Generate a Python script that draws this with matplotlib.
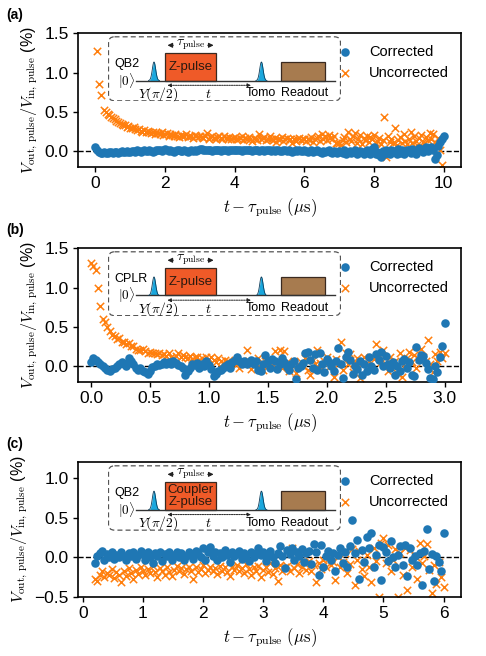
import numpy as np
import matplotlib
matplotlib.use("Agg")
import matplotlib.pyplot as plt
from matplotlib.patches import Rectangle, FancyBboxPatch

plt.rcParams['font.family'] = ['Liberation Sans', 'DejaVu Sans']
plt.rcParams['mathtext.fontset'] = 'cm'

nan = np.nan

# ---------------- data ----------------
t_a = np.round(np.arange(0, 201) * 0.05, 3)
corr_a = [
    0.05, 0.02, -0.01, -0.02, -0.02, -0.01, -0.02, -0.02, -0.01, -0.01, -0.02, -0.01, -0.01, -0.02, -0.01, 0.0, -0.01, -0.01, 0.0, -0.01,
    -0.01, 0.0, 0.0, -0.01, 0.01, 0.0, -0.01, 0.0, 0.01, 0.0, 0.0, 0.01, 0.0, -0.01, 0.0, 0.01, 0.02, 0.01, 0.0, 0.02,
    0.03, 0.02, 0.0, 0.01, 0.0, -0.01, 0.0, 0.01, 0.01, 0.0, 0.0, 0.01, 0.0, -0.01, 0.0, 0.01, 0.0, 0.01, 0.0, 0.02,
    0.03, 0.03, 0.02, 0.01, 0.01, 0.02, 0.01, 0.0, 0.01, 0.02, 0.01, 0.01, 0.0, 0.02, 0.02, 0.01, 0.0, 0.01, 0.02, 0.02,
    0.02, 0.01, 0.02, 0.01, 0.0, 0.01, 0.02, 0.02, 0.01, 0.01, 0.0, 0.01, 0.02, 0.01, 0.0, 0.02, 0.01, 0.0, 0.01, 0.02,
    0.01, 0.0, 0.01, 0.0, 0.01, 0.02, 0.0, 0.0, 0.01, 0.01, 0.0, 0.01, 0.0, -0.01, 0.0, 0.01, 0.0, 0.01, 0.0, 0.0,
    0.01, 0.0, -0.01, 0.0, 0.01, -0.01, 0.0, 0.01, 0.0, -0.01, -0.02, 0.0, -0.01, 0.0, 0.01, -0.01, -0.02, 0.0, -0.01, -0.02,
    0.0, -0.01, -0.02, 0.01, -0.03, -0.01, 0.0, -0.02, -0.01, 0.01, -0.03, -0.02, 0.0, -0.01, -0.04, -0.01, 0.02, -0.02, -0.03, 0.03,
    0.05, -0.04, -0.01, -0.05, -0.07, 0.0, -0.03, 0.01, -0.02, -0.04, 0.02, -0.01, 0.0, -0.03, 0.03, -0.02, 0.01, -0.04, 0.0, 0.02,
    0.01, -0.02, 0.03, 0.0, -0.03, 0.02, 0.04, 0.01, -0.01, 0.03, 0.05, 0.0, 0.04, 0.06, 0.02, -0.1, -0.05, 0.07, 0.12, 0.16, 0.2,
]
unc_a = [
    nan, 1.27, 0.86, 0.71, nan, 0.53, 0.50, 0.48, 0.46, 0.44, 0.42, 0.41, 0.39, 0.37, 0.36, 0.35, 0.33, 0.34, 0.31, 0.32,
    0.30, 0.29, 0.31, 0.28, 0.27, 0.28, 0.26, 0.25, 0.27, 0.24, 0.26, 0.25, 0.23, 0.24, 0.22, 0.25, 0.23, 0.22, 0.24, 0.21,
    0.22, 0.23, 0.20, 0.22, 0.21, 0.19, 0.22, 0.20, 0.18, 0.21, 0.20, 0.19, 0.22, 0.18, 0.20, 0.19, 0.17, 0.21, 0.19, 0.18,
    0.20, 0.18, 0.17, 0.19, 0.23, 0.16, 0.18, 0.19, 0.17, 0.16, 0.18, 0.20, 0.17, 0.15, 0.19, 0.17, 0.16, 0.18, 0.15, 0.17,
    0.18, 0.16, 0.15, 0.17, 0.20, 0.14, 0.17, 0.16, 0.18, 0.15, 0.13, 0.17, 0.16, 0.14, 0.22, 0.15, 0.17, 0.18, 0.14, 0.16,
    0.19, 0.15, 0.14, 0.17, 0.12, 0.16, 0.15, 0.18, 0.13, 0.16, 0.17, 0.14, 0.15, 0.10, 0.16, 0.13, 0.15, 0.17, 0.14, 0.16,
    0.15, 0.13, 0.16, 0.14, 0.18, 0.12, 0.15, 0.17, 0.20, 0.13, 0.22, 0.16, 0.19, 0.14, 0.21, 0.17, 0.15, 0.20, 0.10, 0.11,
    0.10, 0.08, 0.14, 0.18, 0.12, 0.25, 0.16, 0.13, 0.19, 0.23, 0.11, 0.15, 0.21, 0.09, 0.17, 0.14, 0.20, 0.12, 0.18, 0.16,
    0.21, 0.10, 0.13, 0.17, 0.09, 0.14, 0.43, -0.07, 0.19, 0.12, 0.16, 0.11, 0.29, 0.08, 0.14, 0.18, 0.10, 0.22, 0.13, 0.09,
    0.15, 0.24, 0.11, 0.19, 0.13, 0.08, 0.17, 0.21, 0.12, 0.10, 0.18, 0.14, 0.23, 0.16, 0.22, 0.12, 0.07, 0.17, 0.01, -0.17, nan,
]

t_b = np.round(np.arange(0, 151) * 0.02, 3)
corr_b = [
    0.05, 0.10, 0.08, 0.05, 0.02, 0.0, -0.02, -0.05, -0.07, -0.04, -0.02, 0.0, 0.03, 0.05, 0.02, 0.0, 0.10, 0.06, 0.03, -0.02,
    -0.05, -0.03, -0.06, -0.08, -0.10, -0.06, -0.01, 0.0, 0.02, 0.01, 0.03, 0.05, 0.02, 0.05, 0.03, 0.06, 0.04, 0.01, 0.0, -0.03,
    -0.12, -0.06, -0.02, 0.02, 0.01, 0.04, -0.02, 0.03, 0.0, 0.06, 0.01, -0.04, -0.13, -0.10, -0.07, -0.05, -0.02, 0.0, 0.02, -0.03,
    0.05, 0.08, 0.11, 0.06, 0.03, 0.06, 0.02, 0.05, 0.08, 0.03, 0.06, -0.05, -0.07, 0.03, 0.14, 0.06, -0.02, 0.09, 0.07, -0.04,
    0.03, 0.10, 0.05, -0.01, -0.05, 0.02, 0.06, -0.17, -0.02, 0.0, 0.04, 0.17, 0.18, 0.08, -0.02, 0.15, -0.05, 0.17, 0.02, -0.08,
    0.09, 0.05, 0.0, -0.06, 0.07, 0.23, 0.02, -0.15, 0.12, 0.18, 0.08, -0.10, 0.0, -0.04, 0.07, -0.12, 0.02, -0.06, 0.12, 0.0,
    -0.05, 0.15, 0.08, 0.18, 0.0, 0.13, 0.03, -0.03, 0.05, -0.12, 0.0, -0.06, 0.06, 0.09, -0.03, 0.05, -0.11, -0.13, 0.24, 0.08,
    0.14, 0.13, 0.04, -0.04, -0.15, -0.16, 0.0, -0.08, 0.11, 0.26, 0.55,
]
unc_b = [
    1.31, 1.28, 1.22, 0.99, 0.77, 0.60, 0.56, 0.50, 0.45, 0.40,
    0.38, 0.35, 0.36, 0.31, 0.30, 0.28, 0.29, 0.25, 0.26, 0.22,
    0.21, 0.20, 0.22, 0.19, 0.17, 0.18, 0.16, 0.17, 0.15, 0.16,
    0.14, 0.15, 0.13, 0.16, 0.12, 0.10, 0.13, 0.17, 0.11, 0.14,
    0.12, 0.10, 0.13, 0.09, 0.11, 0.12, 0.08, 0.10, 0.07, 0.11,
    0.09, 0.12, 0.08, 0.05, 0.10, 0.07, 0.04, 0.08, 0.06, 0.03,
    0.05, 0.08, 0.02, -0.03, 0.06, 0.03, 0.20, 0.07, -0.04, 0.05,
    0.04, 0.10, 0.02, -0.05, 0.06, 0.00, 0.08, 0.03, 0.19, 0.05,
    0.20, -0.02, 0.19, 0.05, -0.06, 0.02, 0.07, -0.09, 0.03, 0.05,
    0.00, 0.10, -0.05, -0.12, 0.08, 0.02, 0.20, 0.04, -0.03, 0.07,
    0.12, -0.01, 0.05, -0.14, 0.09, 0.02, 0.30, -0.05, 0.17, 0.03,
    0.15, -0.08, 0.05, 0.10, -0.15, 0.03, 0.11, -0.04, 0.06, -0.02,
    0.09, 0.28, 0.14, 0.05, 0.21, 0.02, -0.07, 0.12, 0.04, 0.07,
    -0.09, 0.16, -0.14, 0.00, 0.10, 0.18, 0.05, 0.14, -0.02, 0.09,
    0.22, 0.12, 0.07, 0.33, 0.02, -0.08, 0.15, 0.06, 0.18, 0.10, 0.17,
]

t_c = np.round(0.2 + np.arange(0, 146) * 0.04, 3)
corr_c = [
    -0.08, 0.02, 0.05, 0.08, -0.03, 0.04, 0.0, 0.07, -0.02, 0.03,
    0.0, 0.06, 0.02, -0.04, 0.05, 0.01, 0.07, -0.02, 0.03, 0.08,
    0.04, -0.03, 0.06, 0.0, -0.08, 0.05, 0.02, 0.07, -0.05, 0.04,
    0.01, 0.06, -0.03, 0.03, 0.07, 0.0, 0.05, -0.04, 0.02, 0.06,
    0.03, -0.02, 0.08, 0.04, 0.0, 0.11, -0.04, 0.06, 0.13, 0.02,
    0.07, -0.03, 0.05, 0.0, 0.09, 0.03, -0.06, 0.06, 0.01, 0.04,
    0.08, -0.02, 0.05, 0.02, -0.05, 0.07, 0.0, 0.04, 0.11, 0.03,
    0.06, -0.05, 0.02, 0.08, 0.0, -0.08, 0.05, 0.14, 0.02, -0.14,
    0.09, 0.04, 0.12, -0.03, 0.07, 0.01, 0.10, -0.06, 0.05, 0.08,
    -0.09, 0.17, 0.06, -0.23, 0.16, -0.12, 0.02, 0.08, -0.04, 0.05,
    -0.17, 0.03, 0.11, -0.08, 0.06, -0.12, 0.14, 0.47, 0.05, 0.22,
    -0.28, 0.09, -0.06, 0.26, 0.12, 0.30, -0.12, 0.03, 0.16, -0.29,
    0.13, 0.07, -0.05, 0.21, 0.0, -0.13, 0.03, 0.14, -0.10, 0.16,
    -0.24, 0.12, -0.04, 0.02, -0.10, 0.05, -0.35, 0.08, 0.36, -0.15,
    0.04, -0.30, 0.02, -0.06, -0.18, 0.30,
]
unc_c = [
    -0.28, -0.30, -0.22, -0.18, -0.25, -0.20, -0.23, -0.15, -0.26, -0.19,
    -0.22, -0.31, -0.17, -0.24, -0.14, -0.20, -0.27, -0.16, -0.21, -0.12,
    -0.18, -0.23, -0.15, -0.20, -0.11, -0.19, -0.25, -0.14, -0.17, -0.22,
    -0.13, -0.19, -0.24, -0.16, -0.11, -0.18, -0.14, -0.21, -0.15, -0.12,
    -0.17, -0.28, -0.13, -0.19, -0.15, -0.10, -0.20, -0.16, -0.12, -0.18,
    -0.14, -0.21, -0.11, -0.17, -0.13, -0.19, -0.24, -0.12, -0.16, -0.10,
    -0.18, -0.14, -0.20, -0.09, -0.15, -0.22, -0.13, -0.17, -0.11, -0.25,
    -0.16, -0.12, -0.19, -0.08, -0.21, -0.14, -0.30, -0.10, -0.17, -0.13,
    -0.11, -0.18, 0.11, -0.14, -0.09, -0.20, -0.13, -0.07, -0.16, -0.05,
    -0.18, -0.10, -0.32, -0.08, -0.15, -0.04, -0.12, -0.02, -0.10, -0.06,
    -0.29, 0.02, -0.13, -0.06, 0.05, -0.20, -0.09, 0.10, -0.35, -0.03,
    0.08, -0.15, -0.24, 0.03, -0.12, -0.31, 0.12, -0.05, -0.50, 0.18,
    0.24, -0.08, 0.15, -0.18, -0.03, 0.10, -0.50, 0.05, -0.22, 0.12,
    -0.41, 0.09, -0.12, 0.02, -0.28, 0.18, -0.07, 0.01, 0.17, -0.16,
    -0.45, -0.10, -0.34, -0.06, -0.25, -0.38,
]

panel_labels = ['(a)', '(b)', '(c)']
qubit_labels = ['QB2', 'CPLR', 'QB2']
pulse_labels = ['Z-pulse', 'Z-pulse', 'Coupler\nZ-pulse']
xlims = [(-0.5, 10.5), (-0.11, 3.14), (-0.08, 6.29)]
ylims = [(-0.2, 1.5), (-0.2, 1.5), (-0.5, 1.2)]
xticks = [[0, 2, 4, 6, 8, 10], [0.0, 0.5, 1.0, 1.5, 2.0, 2.5, 3.0], [0, 1, 2, 3, 4, 5, 6]]
yticks = [[0.0, 0.5, 1.0, 1.5], [0.0, 0.5, 1.0, 1.5], [-0.5, 0.0, 0.5, 1.0]]

BLUE = '#1f77b4'
ORANGE = '#ff7f0e'

W, H = 486, 656
fig = plt.figure(figsize=(W / 100, H / 100), dpi=100)

axes_px = [(33.3, 167.0), (248.3, 381.7), (462.3, 596.7)]
left_px, right_px = 78, 461


def draw_sequence(ax, qlabel, zlabel):
    # inset in pixel-like local coordinates of the dashed box (233 x 65)
    ins = ax.inset_axes([30 / 383, 1 - 68 / 133.7, 233 / 383, 65 / 133.7])
    ins.set_xlim(0, 233)
    ins.set_ylim(65, 0)
    ins.axis('off')
    ins.patch.set_alpha(0)
    box = FancyBboxPatch((0.5, 0.5), 232, 64, boxstyle='round,pad=0,rounding_size=6',
                         fill=False, ec='#555555', lw=0.9, ls=(0, (4, 2.5)))
    ins.add_patch(box)
    base = 44.3
    ins.plot([28.4, 226.7], [base, base], color='#333333', lw=1.0)
    # gaussian pulses
    for cx in (46.0, 153.4):
        xs = np.linspace(cx - 5.5, cx + 5.5, 60)
        ys = base - 18.6 * np.exp(-((xs - cx) / 2.4) ** 2)
        ins.fill_between(xs, ys, base, color='#1aa7dd', lw=0)
        ins.plot(xs, ys, color='#0b3d5c', lw=0.6)
    ins.add_patch(Rectangle((56.7, 16.7), 51.7, base - 16.7, fc='#ef5a28', ec='#3a2a20', lw=0.9))
    ins.add_patch(Rectangle((173.4, 25.7), 43.3, base - 25.7, fc='#a77b4f', ec='#3a2a20', lw=0.9))
    # tau_pulse arrow
    ins.annotate('', xy=(56.7, 9), xytext=(68, 9),
                 arrowprops=dict(arrowstyle='-|>', color='#222222', lw=0.8, mutation_scale=7))
    ins.annotate('', xy=(108.4, 9), xytext=(97, 9),
                 arrowprops=dict(arrowstyle='-|>', color='#222222', lw=0.8, mutation_scale=7))
    ins.text(82.5, 8.5, r'$\tau_{\rm pulse}$', ha='center', va='center', fontsize=10)
    # dotted t arrow
    ins.annotate('', xy=(56.7, 49), xytext=(145.7, 49),
                 arrowprops=dict(arrowstyle='<|-|>', color='#222222', lw=0.7, ls=(0, (1.5, 1)),
                                 mutation_scale=5))
    fs = 9
    ins.text(6.7, 27.3, qlabel, ha='left', va='center', fontsize=fs)
    ins.text(27.5, 44.3, r'$|0\rangle$', ha='right', va='center', fontsize=fs + 0.5,
             family=['DejaVu Sans'])
    ins.text(82.5, 30.5, zlabel, ha='center', va='center', fontsize=fs + 0.5, color='#2a1a10',
             linespacing=1.05)
    ins.text(50, 57.5, r'$Y(\pi/2)$', ha='center', va='center', fontsize=fs + 0.8)
    ins.text(100, 57.5, r'$t$', ha='center', va='center', fontsize=fs + 1)
    ins.text(152.5, 57, 'Tomo', ha='center', va='center', fontsize=fs)
    ins.text(196.7, 57, 'Readout', ha='center', va='center', fontsize=fs)


series = [(t_a, corr_a, unc_a), (t_b, corr_b, unc_b), (t_c, corr_c, unc_c)]

for k in range(3):
    top, bot = axes_px[k]
    ax = fig.add_axes([left_px / W, 1 - bot / H, (right_px - left_px) / W, (bot - top) / H])
    t, c, u = series[k]
    ax.axhline(0, color='black', ls='--', lw=1.0, zorder=1)
    ax.scatter(t, u, marker='x', s=28, color=ORANGE, linewidths=1.1, label='Uncorrected', zorder=2)
    ax.scatter(t, c, marker='o', s=38, color=BLUE, linewidths=0, label='Corrected', zorder=3)
    ax.set_xlim(*xlims[k])
    ax.set_ylim(*ylims[k])
    ax.set_xticks(xticks[k])
    ax.set_yticks(yticks[k])
    ax.set_xticklabels([f'{v:g}' if k != 1 else f'{v:.1f}' for v in xticks[k]])
    ax.set_yticklabels([f'{v:.1f}'.replace('-', '\u2212') for v in yticks[k]])
    ax.tick_params(labelsize=12.5, length=3.5, width=1.0, pad=3)
    for sp in ax.spines.values():
        sp.set_linewidth(1.2)
    ax.set_xlabel(r'$t-\tau_{\rm pulse}\ (\mu{\rm s})$', fontsize=12, labelpad=4)
    ax.set_ylabel(r'$V_{\rm out,\,pulse}/V_{\rm in,\,pulse}$ (%)', fontsize=11.5, labelpad=3)
    h, l = ax.get_legend_handles_labels()
    ax.legend(h[::-1], l[::-1], loc='upper right', frameon=False, fontsize=10.5, scatterpoints=1,
              borderaxespad=0.4, handlelength=1.8, handletextpad=0.75)
    draw_sequence(ax, qubit_labels[k], pulse_labels[k])
    fig.text(6 / W, 1 - (top - 18) / H, panel_labels[k], fontsize=10, weight='bold',
             ha='left', va='center')

fig.savefig('out.png', dpi=100)
